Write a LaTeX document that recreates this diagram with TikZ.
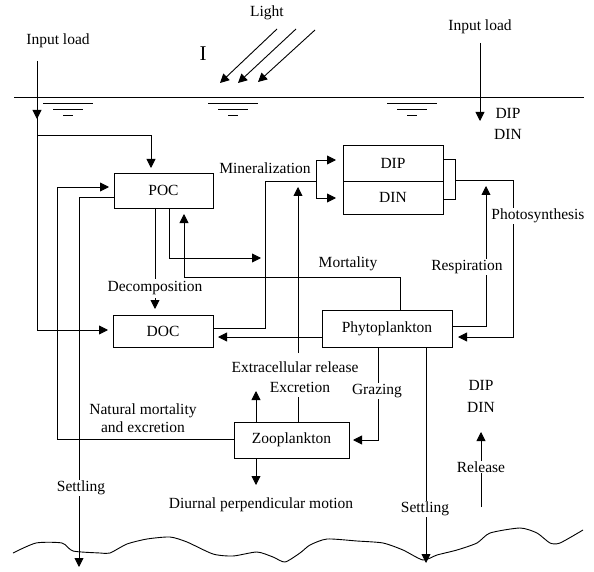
\documentclass[tikz,border=0pt]{standalone}
\usepackage{fontspec}
\setmainfont{Liberation Serif}
\usetikzlibrary{arrows.meta}
\begin{document}
\begin{tikzpicture}[x=1pt,y=-1pt,line width=0.9pt,
  arr/.style={-{Triangle[length=9pt,width=9pt]}},
  lbl/.style={font=\fontsize{15.5}{18}\selectfont,inner sep=1pt},
  wl/.style={lbl,fill=white},
  box/.style={draw,lbl,inner sep=0pt,outer sep=0pt}]
\useasboundingbox (0,0) rectangle (594,572);

% water surface
\draw (14,97) -- (584,97);
\foreach \cx in {68,233,412}{
  \draw (\cx-25,103) -- (\cx+25,103);
  \draw (\cx-15,109) -- (\cx+15,109);
  \draw (\cx-5,115) -- (\cx+5,115);
}

% light
\node[lbl] (light) at (267,13) {Light};
\node[font=\fontsize{21}{24}\selectfont,inner sep=0pt] (ibeam) at (203,54) {I};
\coordinate (l1s) at (277,29); \coordinate (l1e) at (220,83);
\coordinate (l2s) at (296,29); \coordinate (l2e) at (238,83);
\coordinate (l3s) at (315,30); \coordinate (l3e) at (258,82);
\draw[arr] (l1s) -- (l1e);
\draw[arr] (l2s) -- (l2e);
\draw[arr] (l3s) -- (l3e);

% boxes
\node[box,minimum width=99pt,minimum height=35pt] (POC) at (163.5,190.5) {POC};
\node[box,minimum width=100pt,minimum height=32pt] (DOC) at (163,331) {DOC};
\node[box,minimum width=100pt,minimum height=36pt] (DIP) at (393,163) {DIP};
\node[box,minimum width=100pt,minimum height=33pt] (DIN) at (393,197.5) {DIN};
\node[draw,inner sep=0pt,minimum width=12pt,minimum height=40pt] (pool) at (449,179) {};
\node[box,minimum width=130pt,minimum height=37pt] (Phyto) at (387,328.5) {Phytoplankton};
\node[box,minimum width=115pt,minimum height=36pt] (Zoo) at (291.5,440) {Zooplankton};

% left input load
\node[lbl] (inL) at (58,41) {Input load};
\coordinate (inLtop) at (37,61);
\draw[arr] (inLtop) -- (37,119);
\draw[arr,shorten >=5pt] (37,115) -- (37,330) -- (DOC.west |- 0,330);
\draw[arr,shorten >=5pt] (37,135) -- (151,135) -- (POC.north -| 151,0);

% right input load
\node[lbl] (inR) at (480,27) {Input load};
\coordinate (inRtop) at (480,43);
\draw[arr] (inRtop) -- (480,121);
\node[lbl] (dipR) at (508,113) {DIP};
\node[lbl] (dinR) at (508,134) {DIN};

% natural mortality and excretion
\draw[arr,shorten >=5pt] (Zoo.west |- 0,439) -- (57,439) -- (57,187) -- (POC.west |- 0,187);
\node[lbl,align=center] (natmort) at (143,418) {Natural mortality\\and excretion};

% settling (left)
\coordinate (setL) at (79,567);
\draw[arr] (POC.west |- 0,197) -- (79,197) -- (setL);
\node[wl] (setLlbl) at (81,488) {Settling};

% decomposition
\draw (POC.south -| 155,0) -- (155,279);
\node[lbl] (decomp) at (155,288) {Decomposition};
\draw[arr,shorten >=6pt] (155,298) -- (DOC.north -| 155,0);

% POC -> mineralization
\coordinate (pocmin) at (261,258);
\draw[arr] (POC.south -| 169,0) -- (169,258) -- (pocmin);

% mortality
\draw[arr,shorten >=6pt] (Phyto.north -| 400,0) -- (400,277) -- (184,277) -- (POC.south -| 184,0);
\node[lbl] (mort) at (348,264) {Mortality};

% DOC -> mineralization -> DIP/DIN
\coordinate (fork) at (316,181);
\draw (DOC.east |- 0,328) -- (265,328) -- (265,181) -- (fork);
\draw[arr,shorten >=7pt] (fork) -- (316,160) -- (DIP.west |- 0,160);
\draw[arr,shorten >=7pt] (fork) -- (316,198) -- (DIN.west |- 0,198);
\node[lbl] (minz) at (265,168) {Mineralization};

% extracellular release
\coordinate (exts) at (298,353);
\draw[arr] (exts) -- (298,187);
\node[lbl] (extr) at (295,367) {Extracellular release};
\draw[arr,shorten >=5pt] (Phyto.west |- 0,337) -- (DOC.east |- 0,337);

% excretion
\draw (Zoo.north -| 298,0) -- (298,397);
\node[lbl] (excr) at (300,387) {Excretion};
\draw[arr] (Zoo.north -| 256,0) -- (256,391);

% grazing
\draw[arr,shorten >=4pt] (Phyto.south -| 378,0) -- (378,440) -- (Zoo.east |- 0,440);
\node[wl] (graz) at (377,391) {Grazing};

% settling (right)
\coordinate (setR) at (426,563);
\draw[arr] (Phyto.south -| 426,0) -- (setR);
\node[wl] (setRlbl) at (425,509) {Settling};

% respiration
\draw[arr] (Phyto.east |- 0,326) -- (486,326) -- (486,186);
\node[wl] (resp) at (467,267) {Respiration};

% photosynthesis
\draw[arr,shorten >=6pt] (pool.east |- 0,180) -- (513,180) -- (513,337) -- (Phyto.east |- 0,337);
\node[wl] (photo) at (538,216) {Photosynthesis};

% diurnal motion
\draw[arr] (Zoo.south -| 256,0) -- (256,485);
\node[lbl] (diur) at (261,505) {Diurnal perpendicular motion};

% release
\node[lbl] (dipB) at (481,385) {DIP};
\node[lbl] (dinB) at (481,407) {DIN};
\coordinate (rels) at (481,507);
\draw[arr] (rels) -- (481,432);
\node[wl] (rel) at (481,467) {Release};

% sea bed
\draw[line width=0.9pt] plot[smooth,tension=0.4] coordinates {
 (13,553) (36,543) (62,543) (73,551) (100,553) (110,553) (127,544) (147,539)
 (170,537) (187,542) (213,554) (233,556) (257,552) (273,557) (285,562) (300,553)
 (310,545) (327,539) (357,541) (383,543) (403,550) (423,560) (437,555) (457,550)
 (477,543) (490,533) (520,528) (537,533) (550,543) (560,543) (583,530)};
\end{tikzpicture}
\end{document}
